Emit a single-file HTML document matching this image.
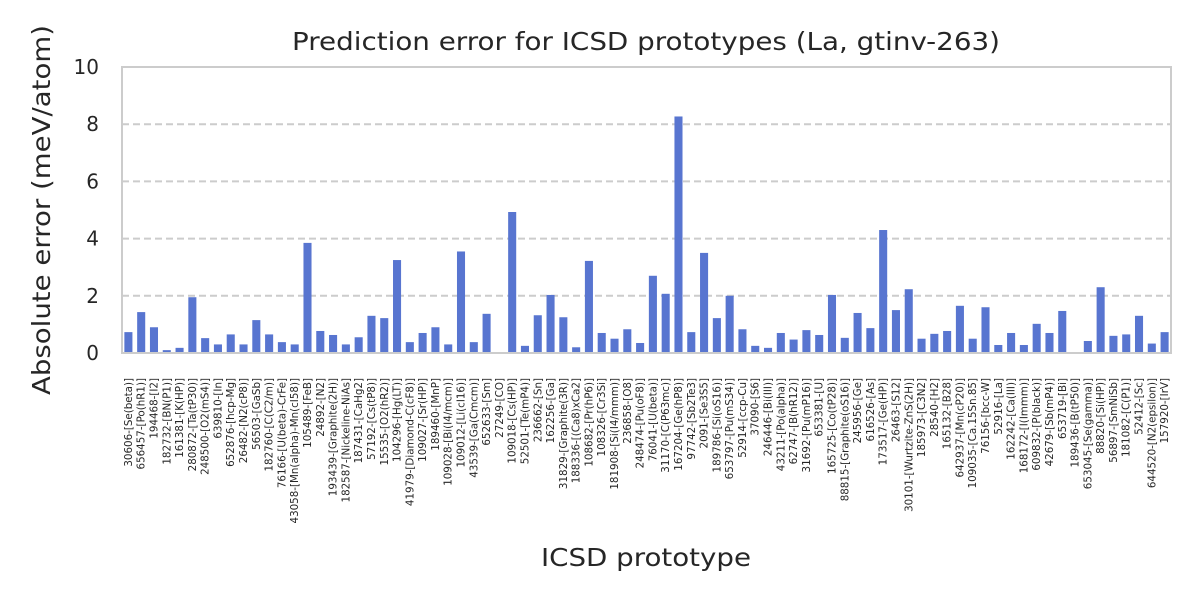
<!DOCTYPE html>
<html><head><meta charset="utf-8"><style>
html,body{margin:0;padding:0;background:#fff;}
svg{display:block;font-family:"DejaVu Sans","Liberation Sans",sans-serif;}
</style></head><body>
<svg id="chart" width="1200" height="600" viewBox="0 0 1200 600">
<text x="646" y="50" font-size="25" fill="#262626" text-anchor="middle" textLength="708" lengthAdjust="spacingAndGlyphs">Prediction error for ICSD prototypes (La, gtinv-263)</text>
<text x="646" y="566" font-size="25" fill="#262626" text-anchor="middle" textLength="210" lengthAdjust="spacingAndGlyphs">ICSD prototype</text>
<text transform="translate(50,210) rotate(-90)" font-size="25" fill="#262626" text-anchor="middle" textLength="370" lengthAdjust="spacingAndGlyphs">Absolute error (meV/atom)</text>
<g id="grid"></g><g id="bars"></g><g id="yticks"></g><g id="xticks"></g>
<rect x="122" y="67" width="1049" height="286" fill="none" stroke="#cccccc" stroke-width="2"/>
</svg>
<script>
const categories = ["30606-[Se(beta)]","656457-[Po(hR1)]","194468-[I2]","182732-[BN(P1)]","161381-[K(HP)]","280872-[Ta(tP30)]","248500-[O2(mS4)]","639810-[In]","652876-[hcp-Mg]","26482-[N2(cP8)]","56503-[GaSb]","182760-[C(C2/m)]","76166-[U(beta)-CrFe]","43058-[Mn(alpha)-Mn(cI58)]","105489-[FeB]","24892-[N2]","193439-[Graphite(2H)]","182587-[Nickeline-NiAs]","187431-[CaHg2]","57192-[Cs(tP8)]","15535-[O2(hR2)]","104296-[Hg(LT)]","41979-[Diamond-C(cF8)]","109027-[Sr(HP)]","189460-[MnP]","109028-[Bi(I4/mcm)]","109012-[Li(cI16)]","43539-[Ga(Cmcm)]","652633-[Sm]","27249-[CO]","109018-[Cs(HP)]","52501-[Te(mP4)]","236662-[Sn]","162256-[Ga]","31829-[Graphite(3R)]","188336-[(Ca8)xCa2]","108682-[Pr(hP6)]","108326-[Cr3Si]","181908-[Si(I4/mmm)]","236858-[O8]","248474-[Pu(oF8)]","76041-[U(beta)]","31170-[C(P63mc)]","167204-[Ge(hP8)]","97742-[Sb2Te3]","2091-[Se3S5]","189786-[Si(oS16)]","653797-[Pu(mS34)]","52914-[ccp-Cu]","37090-[S6]","246446-[Bi(III)]","43211-[Po(alpha)]","62747-[B(hR12)]","31692-[Pu(mP16)]","653381-[U]","165725-[Co(tP28)]","88815-[Graphite(oS16)]","245956-[Ge]","616526-[As]","173517-[Ge(HP)]","26463-[S12]","30101-[Wurtzite-ZnS(2H)]","185973-[C3N2]","28540-[H2]","165132-[B28]","642937-[Mn(cP20)]","109035-[Ca.15Sn.85]","76156-[bcc-W]","52916-[La]","162242-[Ca(III)]","168172-[I(Immm)]","609832-[P(black)]","42679-[Sb(mP4)]","653719-[Bi]","189436-[B(tP50)]","653045-[Se(gamma)]","88820-[Si(HP)]","56897-[SmNiSb]","181082-[C(P1)]","52412-[Sc]","644520-[N2(epsilon)]","157920-[IrV]"];
const errors = [0.73,1.43,0.9,0.1,0.18,1.95,0.52,0.3,0.65,0.3,1.15,0.65,0.38,0.3,3.85,0.77,0.63,0.3,0.55,1.3,1.22,3.25,0.38,0.7,0.9,0.3,3.55,0.38,1.37,0.02,4.93,0.25,1.32,2.03,1.25,0.2,3.22,0.7,0.5,0.83,0.35,2.7,2.07,8.27,0.73,3.5,1.22,2.0,0.83,0.25,0.18,0.7,0.47,0.8,0.63,2.03,0.53,1.4,0.87,4.3,1.5,2.23,0.5,0.67,0.77,1.65,0.5,1.6,0.28,0.7,0.28,1.02,0.7,1.47,0.0,0.42,2.3,0.6,0.65,1.3,0.33,0.73];
const yTicks = [0,2,4,6,8,10];

const NS="http://www.w3.org/2000/svg";
const X0=122, X1=1171, Y0=353, Y1=67, YMAX=10;
const step=(X1-X0)/categories.length;
const xPos=i=>X0+step*(i+0.5);
const yPos=v=>Y0-(v/YMAX)*(Y0-Y1);
function mk(tag,attrs,parent){const e=document.createElementNS(NS,tag);for(const k in attrs)e.setAttribute(k,attrs[k]);document.getElementById(parent).appendChild(e);return e;}

yTicks.forEach(t=>{
  if(t>0&&t<YMAX){
    const g=mk('line',{x1:X0,x2:X1,y1:yPos(t),y2:yPos(t),stroke:'#cccccc','stroke-width':2,'stroke-dasharray':'7,4'},'grid');
    
    
  }
  const l=mk('text',{x:X0-23,y:yPos(t)+7,'font-size':20,fill:'#262626','text-anchor':'end'},'yticks');
  l.textContent=t;
  
  
});

const bw=step*0.63;
categories.forEach((c,i)=>{
  const v=errors[i];
  const r=mk('rect',{x:xPos(i)-bw/2,y:yPos(v),width:bw,height:Y0-yPos(v),fill:'#5875d0'},'bars');
  
  
  const x=xPos(i)+3.5;
  const t=mk('text',{transform:`translate(${x},378) rotate(-90)`,'font-size':10.3,fill:'#262626','text-anchor':'end'},'xticks');
  t.textContent=c;
  
  
});
</script>
</body></html>
